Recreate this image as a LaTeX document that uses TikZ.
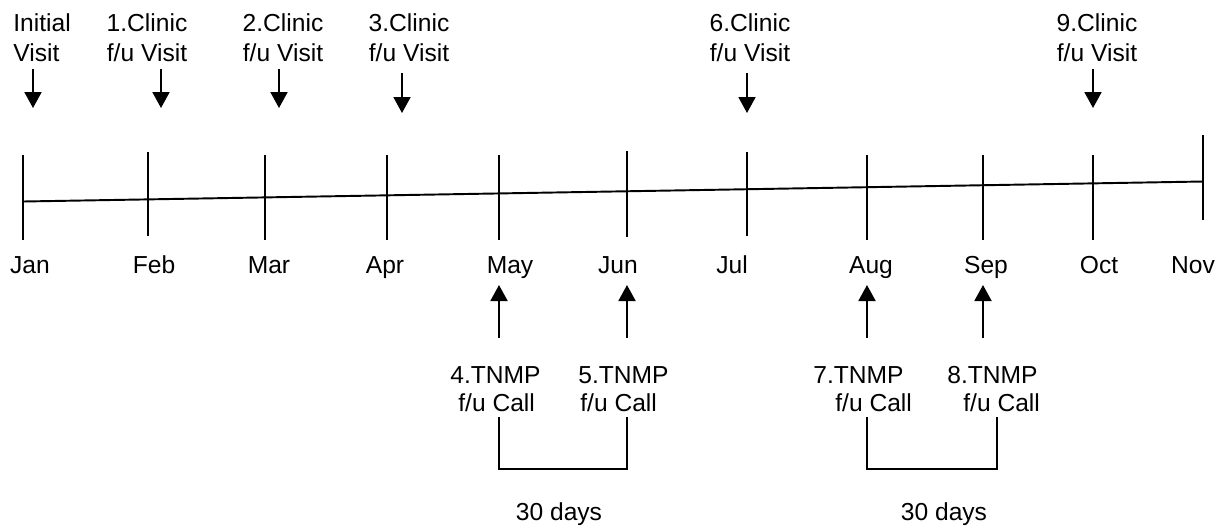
\documentclass[tikz,border=0pt]{standalone}
\usepackage{fontspec}
\setmainfont{Liberation Sans}
\usepackage{tikz}
\usetikzlibrary{arrows.meta}
\newcommand{\tlfont}{\fontsize{14pt}{17pt}\selectfont}
\newcommand{\callfont}{\fontsize{14pt}{15.9pt}\selectfont}
\tikzset{
  monthtick/.style={line width=1.1pt},
  axisline/.style={line width=1.1pt},
  month/.style={anchor=base, inner sep=0pt, font=\tlfont},
  visit/.style={anchor=base, inner sep=0pt, align=center, font=\tlfont},
  call/.style={anchor=base west, inner sep=0pt, align=left, font=\callfont},
  pointer/.style={-{Triangle[width=0.34cm,length=0.32cm]}, line width=1.1pt},
  bracket/.style={line width=1.1pt}
}

\begin{document}
\begin{tikzpicture}[x=0.02cm, y=-0.02cm]
  \useasboundingbox (0,0) rectangle (1221,529);

  % ── Time axis ──────────────────────────────────────────────────────────────
  \coordinate (axstart) at (23,201.5);
  \coordinate (axend) at (1203,181.5);
  \draw[axisline] (axstart) -- (axend);
  % Month ticks
  \draw[monthtick] (23,155) -- (23,240);
  \draw[monthtick] (148,152) -- (148,236);
  \draw[monthtick] (265,155) -- (265,240);
  \draw[monthtick] (387,155) -- (387,240);
  \draw[monthtick] (499,155) -- (499,240);
  \draw[monthtick] (627,151) -- (627,237);
  \draw[monthtick] (747,152) -- (747,236);
  \draw[monthtick] (867,155) -- (867,240);
  \draw[monthtick] (983,155) -- (983,240);
  \draw[monthtick] (1093,155) -- (1093,240);
  \draw[monthtick] (1203,135) -- (1203,220);
  % Month labels
  \node[month] (jan) at (30,273) {Jan};
  \node[month] (feb) at (154,273) {Feb};
  \node[month] (mar) at (269,273) {Mar};
  \node[month] (apr) at (385,273) {Apr};
  \node[month] (may) at (510,273) {May};
  \node[month] (jun) at (618,273) {Jun};
  \node[month] (jul) at (732,273) {Jul};
  \node[month] (aug) at (871,273) {Aug};
  \node[month] (sep) at (986,273) {Sep};
  \node[month] (oct) at (1099,273) {Oct};
  \node[month] (nov) at (1193,273) {Nov};

  % ── Clinic visits (above) ──────────────────────────────────────────────────
  \node[visit, anchor=base west, align=left] (v0) at (13,61) {Initial\\Visit};
  \node[visit] (v1) at (147,61) {1.Clinic\\f/u Visit};
  \node[visit] (v2) at (283,61) {2.Clinic\\f/u Visit};
  \node[visit] (v3) at (409,61) {3.Clinic\\f/u Visit};
  \node[visit] (v6) at (750,61) {6.Clinic\\f/u Visit};
  \node[visit] (v9) at (1097,61) {9.Clinic\\f/u Visit};
  % Pointers down to the axis
  \coordinate (v0top) at (33,69);    \coordinate (v0tip) at (33,108);
  \coordinate (v1top) at (161,69);   \coordinate (v1tip) at (161,108);
  \coordinate (v2top) at (279,69);   \coordinate (v2tip) at (279,108);
  \coordinate (v3top) at (402,73);   \coordinate (v3tip) at (402,113);
  \coordinate (v6top) at (747,73);   \coordinate (v6tip) at (747,113);
  \coordinate (v9top) at (1093,69);  \coordinate (v9tip) at (1093,108);
  \draw[pointer] (v0top) -- (v0tip);
  \draw[pointer] (v1top) -- (v1tip);
  \draw[pointer] (v2top) -- (v2tip);
  \draw[pointer] (v3top) -- (v3tip);
  \draw[pointer] (v6top) -- (v6tip);
  \draw[pointer] (v9top) -- (v9tip);

  % ── TNMP calls (below) ─────────────────────────────────────────────────────
  \node[call] (c4) at (450,411) {4.TNMP\\\hspace*{0.16cm}f/u Call};
  \node[call] (c5) at (578,411) {5.TNMP\\\hspace*{0.04cm}f/u Call};
  \node[call] (c7) at (813,411) {7.TNMP\\\hspace*{0.44cm}f/u Call};
  \node[call] (c8) at (947,411) {8.TNMP\\\hspace*{0.32cm}f/u Call};
  % Pointers up to the axis
  \coordinate (c4foot) at (499,338);  \coordinate (c4tip) at (499,285);
  \coordinate (c5foot) at (627,338);  \coordinate (c5tip) at (627,285);
  \coordinate (c7foot) at (867,338);  \coordinate (c7tip) at (867,285);
  \coordinate (c8foot) at (983,338);  \coordinate (c8tip) at (983,285);
  \draw[pointer] (c4foot) -- (c4tip);
  \draw[pointer] (c5foot) -- (c5tip);
  \draw[pointer] (c7foot) -- (c7tip);
  \draw[pointer] (c8foot) -- (c8tip);
  % 30-day brackets
  \coordinate (b4) at (499,417);  \coordinate (b5) at (627,417);
  \coordinate (b7) at (867,417);  \coordinate (b8) at (997,417);
  \draw[bracket] (b4) -- ++(0,52) -| (b5);
  \draw[bracket] (b7) -- ++(0,52) -| (b8);
  \node[month] (gap1) at (559,520) {30 days};
  \node[month] (gap2) at (944,520) {30 days};
\end{tikzpicture}
\end{document}
